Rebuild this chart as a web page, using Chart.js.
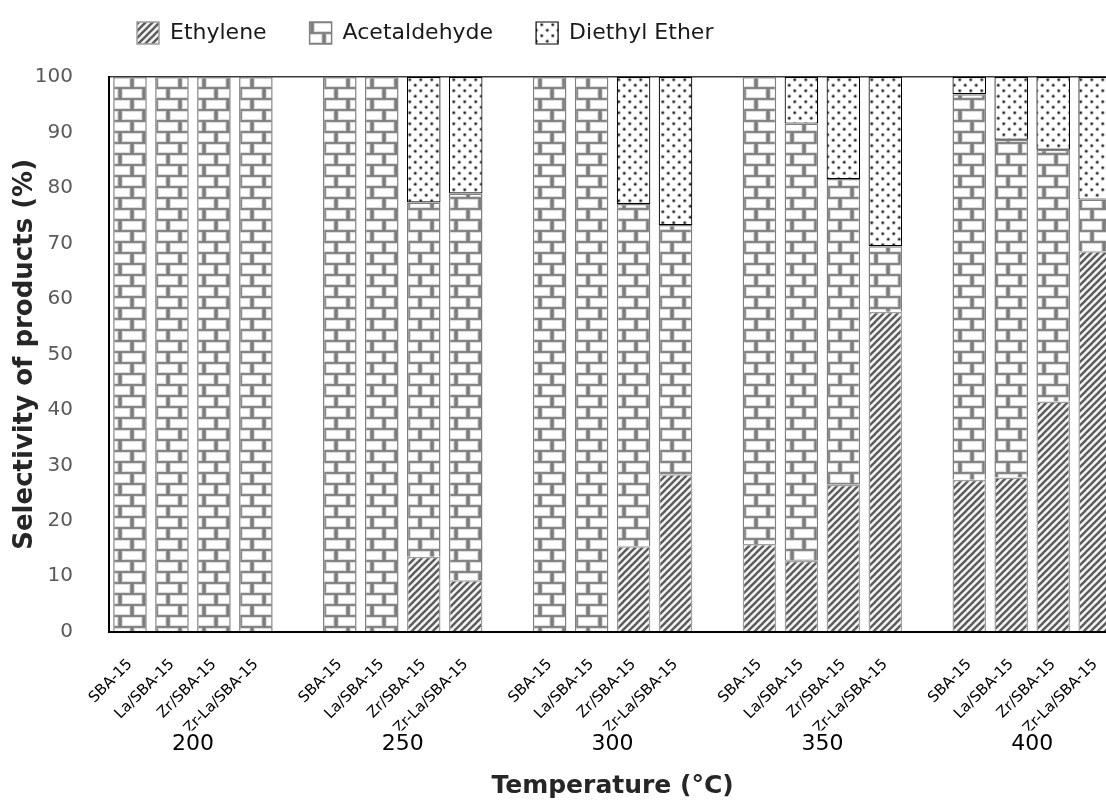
<!DOCTYPE html>
<html>
<head>
<meta charset="utf-8">
<script src="https://cdn.jsdelivr.net/npm/chart.js@4.4.0/dist/chart.umd.min.js"></script>
<style>
    html, body { margin: 0; padding: 0; background: #fff; overflow: hidden; }
    #wrap { width: 1132px; height: 802px; }
</style>
</head>
<body>
<div id="wrap"><canvas id="chart" width="1132" height="802"></canvas></div>
<script>
const temperatures = ['200', '250', '300', '350', '400']
const catalysts = ['SBA-15', 'La/SBA-15', 'Zr/SBA-15', 'Zr-La/SBA-15']

// selectivity (%), 4 catalysts per temperature
const ethylene     = [0, 0, 0, 0,       0, 0, 13.5, 9.3,     0, 0, 15.4, 28.4,     15.8, 12.8, 26.5, 57.7,   27.4, 27.8, 41.5, 68.6]
const acetaldehyde = [100, 100, 100, 100, 100, 100, 63.9, 69.7, 100, 100, 61.7, 44.9, 84.2, 78.8, 55.1, 11.8,  69.5, 60.9, 45.4, 9.3]
const diethylEther = [0, 0, 0, 0,       0, 0, 22.6, 21.0,    0, 0, 22.9, 26.7,     0, 8.4, 18.4, 30.5,       3.1, 11.3, 13.1, 22.1]

const font = '"DejaVu Sans", "Noto Sans", sans-serif'

// put an empty slot between temperature groups
function withGaps(values) {
    let out = []
    temperatures.forEach((t, g) => {
        if (g > 0) out.push(null)
        for (let c = 0; c < catalysts.length; c++) out.push(values[g * catalysts.length + c])
    })
    return out
}

const labels = withGaps(temperatures.flatMap(() => catalysts)).map(l => l || '')

function makeTile(w, h, paint) {
    const c = document.createElement('canvas')
    c.width = w
    c.height = h
    const g = c.getContext('2d')
    paint(g)
    return g.createPattern(c, 'repeat')
}

// diagonal stripes
const stripes = makeTile(7, 7, g => {
    g.fillStyle = '#f2f2f2'
    g.fillRect(0, 0, 7, 7)
    g.strokeStyle = '#5a5a5a'
    g.lineWidth = 2.3
    for (let k = -7; k <= 7; k += 7) {
        g.beginPath()
        g.moveTo(k - 1, 8)
        g.lineTo(k + 8, -1)
        g.stroke()
    }
})

// bricks
const bricks = makeTile(24, 22, g => {
    g.fillStyle = '#7c7c7c'
    g.fillRect(0, 0, 24, 22)
    const brick = (x, y) => {
        g.fillStyle = '#dcdcdc'
        g.fillRect(x, y, 20.5, 9.2)
        g.fillStyle = '#fff'
        g.fillRect(x + 1.2, y + 1.2, 18, 6.8)
    }
    brick(1.8, 0.9)
    brick(-10.2, 11.9)
    brick(13.8, 11.9)
})

// dots
const dots = makeTile(11, 11, g => {
    g.fillStyle = '#fff'
    g.fillRect(0, 0, 11, 11)
    const dot = (x, y) => {
        g.fillStyle = '#aaa'
        g.beginPath(); g.arc(x, y, 1.9, 0, Math.PI * 2); g.fill()
        g.fillStyle = '#222'
        g.beginPath(); g.arc(x, y, 1.1, 0, Math.PI * 2); g.fill()
    }
    dot(2.75, 2.75)
    dot(8.25, 8.25)
})

// legend sits left of centre and higher up than chart.js puts it
const legendShift = {
    id: 'legendShift',
    afterLayout(chart) {
        chart.legend.left += 94
        chart.legend.top -= 23
    }
}

new Chart(document.getElementById('chart'), {
    type: 'bar',
    data: {
        labels: labels,
        datasets: [
            { label: 'Ethylene', data: withGaps(ethylene), backgroundColor: stripes, borderColor: '#a0a0a0', borderWidth: 1.5 },
            { label: 'Acetaldehyde', data: withGaps(acetaldehyde), backgroundColor: bricks, borderColor: '#808080', borderWidth: 1.5 },
            { label: 'Diethyl Ether', data: withGaps(diethylEther), backgroundColor: dots, borderColor: '#000', borderWidth: 1.2, borderSkipped: false }
        ]
    },
    options: {
        responsive: false,
        animation: false,
        barPercentage: 0.8,
        categoryPercentage: 1,
        layout: { padding: { left: 0, right: 5, top: 2, bottom: 1 } },
        plugins: {
            legend: {
                position: 'top',
                align: 'start',
                labels: {
                    boxWidth: 22, boxHeight: 22, padding: 43,
                    color: '#1a1a1a',
                    font: { family: font, size: 22 }
                }
            },
            tooltip: { enabled: false }
        },
        scales: {
            x: {
                stacked: true,
                // the temperature row overlaps the slanted names, as in the original
                afterFit: scale => { scale.height -= 31 },
                grid: { display: false, drawTicks: false },
                border: { display: true, color: '#000', width: 2 },
                ticks: {
                    autoSkip: false, minRotation: 45, maxRotation: 45, padding: 24,
                    color: '#000', font: { family: font, size: 15 }
                }
            },
            x2: {
                type: 'linear', position: 'bottom', min: -0.5, max: 23.5, offset: false,
                afterBuildTicks: axis => {
                    axis.ticks = temperatures.map((t, g) => ({ value: g * (catalysts.length + 1) + 1.5 }))
                },
                grid: { display: false, drawTicks: false },
                border: { display: false },
                ticks: {
                    autoSkip: false, maxRotation: 0, padding: 0,
                    color: '#000', font: { family: font, size: 22 },
                    callback: v => temperatures[Math.round((v - 1.5) / (catalysts.length + 1))]
                },
                title: {
                    display: true, text: 'Temperature (°C)', color: '#262626',
                    font: { family: font, size: 25, weight: 'bold' }, padding: { top: 14, bottom: 0 }
                }
            },
            y: {
                stacked: true, min: 0, max: 100,
                afterFit: scale => { scale.width = 109 },
                grid: {
                    drawTicks: false,
                    color: ctx => ctx.tick && ctx.tick.value === 100 ? '#3a3a3a' : 'transparent',
                    lineWidth: 1.5
                },
                border: { display: true, color: '#000', width: 2 },
                ticks: { stepSize: 10, padding: 36, color: '#595959', font: { family: font, size: 20 } },
                title: {
                    display: true, text: 'Selectivity of products (%)', color: '#262626',
                    font: { family: font, size: 26, weight: 'bold' }, padding: { top: 10, bottom: 0 }
                }
            }
        }
    },
    plugins: [legendShift]
})
</script>
</body>
</html>
